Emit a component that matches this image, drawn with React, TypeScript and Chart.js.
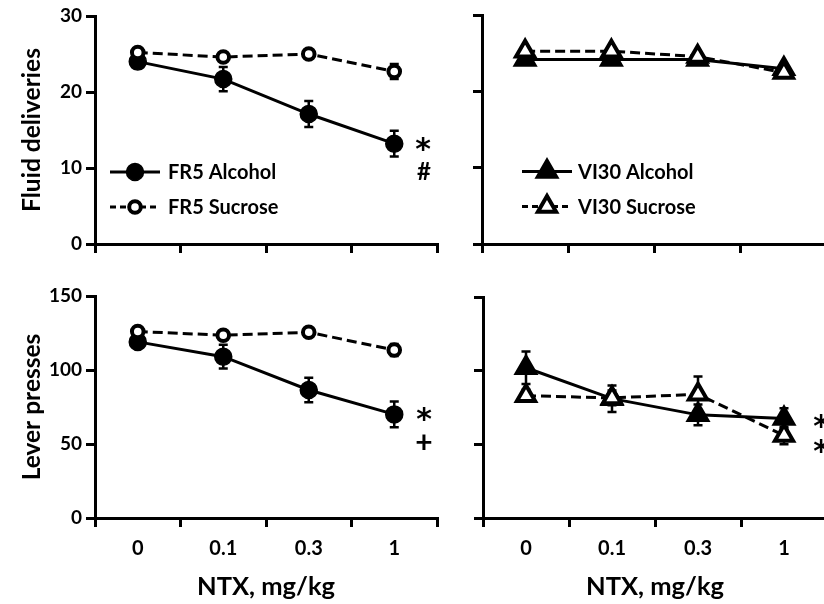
import React, { useEffect, useRef } from 'react';
import { Chart, registerables } from 'chart.js';
import { drawPoint } from 'chart.js/helpers';

Chart.register(...registerables);

// ---------- data ----------
const doses = ['0', '0.1', '0.3', '1'];
const yTitleTop = 'Fluid deliveries';
const yTitleBottom = 'Lever presses';
const xTitle = 'NTX, mg/kg';

const fr5AlcoholDeliveries = [24.0, 21.7, 17.1, 13.2];
const fr5AlcoholDeliveriesErr = [0.6, 1.6, 1.7, 1.7];
const fr5SucroseDeliveries = [25.2, 24.6, 25.0, 22.7];
const fr5SucroseDeliveriesErr = [0.4, 0.5, 0.4, 1.0];

const vi30AlcoholDeliveries = [24.2, 24.2, 24.2, 23.0];
const vi30AlcoholDeliveriesErr = [0.5, 0.5, 0.5, 0.5];
const vi30SucroseDeliveries = [25.3, 25.3, 24.6, 22.5];
const vi30SucroseDeliveriesErr = [0.3, 0.3, 0.4, 0.6];

const fr5AlcoholPresses = [119, 109, 86.5, 70];
const fr5AlcoholPressesErr = [3, 8, 8.3, 8.7];
const fr5SucrosePresses = [126, 123.5, 125.5, 113.5];
const fr5SucrosePressesErr = [2.5, 3, 2, 4];

const vi30AlcoholPresses = [102, 81, 70, 67.5];
const vi30AlcoholPressesErr = [11, 9, 7, 7];
const vi30SucrosePresses = [83, 81.5, 84, 56];
const vi30SucrosePressesErr = [4, 5, 12, 6];

const fr5Labels = ['FR5 Alcohol', 'FR5 Sucrose'];
const vi30Labels = ['VI30 Alcohol', 'VI30 Sucrose'];
const marksTL = ['*', '#'];
const marksBL = ['*', '+'];
const marksBR = ['*', '*'];

const FONT = 'Lato';

// ---------- plugins ----------
const errorBarPlugin = {
  id: 'errorBars',
  beforeDatasetsDraw(chart: any) {
    const ctx = chart.ctx;
    const yScale = chart.scales.y;
    chart.data.datasets.forEach((ds: any, i: number) => {
      const errs = ds.errors;
      if (!errs) return;
      const meta = chart.getDatasetMeta(i);
      ctx.save();
      ctx.strokeStyle = '#000';
      ctx.lineWidth = 2.5;
      ctx.setLineDash([]);
      meta.data.forEach((pt: any, j: number) => {
        const v = ds.data[j];
        const e = errs[j];
        const x = pt.x;
        const yt = yScale.getPixelForValue(v + e);
        const yb = yScale.getPixelForValue(v - e);
        ctx.beginPath();
        ctx.moveTo(x, yt);
        ctx.lineTo(x, yb);
        ctx.moveTo(x - 4.5, yt);
        ctx.lineTo(x + 4.5, yt);
        ctx.moveTo(x - 4.5, yb);
        ctx.lineTo(x + 4.5, yb);
        ctx.stroke();
      });
      ctx.restore();
    });
  },
};

const lineLegendPlugin = {
  id: 'lineLegend',
  afterDatasetsDraw(chart: any, _args: any, opts: any) {
    if (!opts || !opts.display) return;
    const ctx = chart.ctx;
    const area = chart.chartArea;
    chart.data.datasets.forEach((ds: any, i: number) => {
      const x0 = area.left + opts.dx;
      const y = area.top + opts.dy + i * opts.gap;
      ctx.save();
      ctx.strokeStyle = '#000';
      ctx.lineWidth = ds.borderWidth;
      ctx.setLineDash(ds.legendDash || []);
      ctx.beginPath();
      ctx.moveTo(x0, y);
      ctx.lineTo(x0 + opts.lineLen, y);
      ctx.stroke();
      ctx.setLineDash([]);
      ctx.fillStyle = ds.pointBackgroundColor;
      ctx.strokeStyle = '#000';
      ctx.lineWidth = ds.pointBorderWidth;
      drawPoint(
        ctx,
        { pointStyle: ds.pointStyle, radius: ds.pointRadius, rotation: 0, borderWidth: ds.pointBorderWidth },
        x0 + opts.lineLen / 2,
        y
      );
      ctx.fillStyle = '#000';
      ctx.font = `bold ${opts.fontSize}px ${FONT}`;
      ctx.textBaseline = 'middle';
      ctx.textAlign = 'left';
      ctx.fillText(ds.label, x0 + opts.lineLen + opts.textGap, y + 1);
      ctx.restore();
    });
  },
};

const marksPlugin = {
  id: 'sigMarks',
  afterDatasetsDraw(chart: any, _args: any, opts: any) {
    if (!opts || !opts.items) return;
    const ctx = chart.ctx;
    const area = chart.chartArea;
    const yScale = chart.scales.y;
    ctx.save();
    ctx.fillStyle = '#000';
    ctx.textAlign = 'center';
    ctx.textBaseline = 'middle';
    opts.items.forEach((it: any) => {
      ctx.font = `bold ${it.size}px ${it.font || FONT}`;
      ctx.fillText(it.text, area.right + it.dx, yScale.getPixelForValue(it.value) + (it.dy || 0));
    });
    ctx.restore();
  },
};

// ---------- helpers ----------
function series(label: string, data: number[], errors: number[], filled: boolean, shape: string) {
  const circle = shape === 'circle';
  return {
    label,
    data,
    errors,
    borderColor: '#000',
    borderWidth: 3,
    borderDash: filled ? [] : [10, 5],
    legendDash: filled ? [] : [6, 4],
    pointStyle: shape,
    pointRadius: circle ? (filled ? 8.5 : 5.8) : filled ? 12.5 : 10.5,
    pointBackgroundColor: filled ? '#000' : '#fff',
    pointBorderColor: '#000',
    pointBorderWidth: circle ? (filled ? 1.5 : 4) : filled ? 2 : 4,
    tension: 0,
    fill: false,
    clip: false,
    order: filled ? 1 : 0,
  };
}

function buildConfig(p: any) {
  return {
    type: 'line',
    data: { labels: doses, datasets: p.datasets },
    plugins: [errorBarPlugin, lineLegendPlugin, marksPlugin],
    options: {
      responsive: false,
      animation: false,
      devicePixelRatio: 1,
      events: [],
      layout: { autoPadding: false, padding: { top: p.padTop, right: p.padRight, left: 0, bottom: 0 } },
      plugins: {
        legend: { display: false },
        tooltip: { enabled: false },
        lineLegend: p.legend,
        sigMarks: { items: p.marks },
      },
      scales: {
        x: {
          type: 'category',
          offset: true,
          afterFit: (s: any) => {
            s.height = p.xHeight;
          },
          grid: { offset: true, drawOnChartArea: false, drawTicks: true, tickLength: 9, lineWidth: 3, color: '#000' },
          border: { display: true, width: 3, color: '#000' },
          ticks: {
            display: true,
            callback: (_v: any, i: number) => (p.xLabels ? doses[i] : ''),
            color: '#000',
            font: { family: FONT, size: 20, weight: 'bold' },
            padding: 10,
            maxRotation: 0,
            autoSkip: false,
          },
          title: {
            display: !!p.xTitle,
            text: p.xTitle || '',
            color: '#000',
            font: { family: FONT, size: 25.5, weight: 'bold' },
            padding: { top: 0, bottom: 2 },
          },
        },
        y: {
          min: 0,
          max: p.yMax,
          afterFit: (s: any) => {
            s.width = p.yWidth;
          },
          grid: { drawOnChartArea: false, drawTicks: true, tickLength: 9, lineWidth: 3, color: '#000' },
          border: { display: true, width: 3, color: '#000' },
          ticks: {
            stepSize: p.yStep,
            callback: (v: any) => (p.yLabels ? String(v) : ''),
            color: '#000',
            font: { family: FONT, size: 19, weight: 'bold' },
            padding: 4,
          },
          title: {
            display: !!p.yTitle,
            text: p.yTitle || '',
            color: '#000',
            font: { family: FONT, size: 24.5, weight: 'bold' },
            padding: { top: 17, bottom: 0 },
          },
        },
      },
    },
  } as any;
}

function Panel(props: { left: number; top: number; width: number; height: number; build: () => any }) {
  const ref = useRef<HTMLCanvasElement>(null);
  useEffect(() => {
    const chart = new Chart(ref.current as HTMLCanvasElement, props.build());
    return () => chart.destroy();
  }, []);
  return (
    <canvas
      ref={ref}
      width={props.width}
      height={props.height}
      style={{ position: 'absolute', left: props.left, top: props.top, width: props.width, height: props.height }}
    />
  );
}

const legendTL = { display: true, dx: 15, dy: 156, gap: 35, lineLen: 50, textGap: 8, fontSize: 20 };
const legendTR = { display: true, dx: 40, dy: 156, gap: 35, lineLen: 50, textGap: 6, fontSize: 20 };

export default function App() {
  return (
    <div style={{ position: 'fixed', left: 0, top: 0, width: 824, height: 604, overflow: 'hidden', background: '#fff' }}>
      <Panel
        left={0}
        top={0}
        width={440}
        height={262}
        build={() =>
          buildConfig({
            datasets: [
              series(fr5Labels[0], fr5AlcoholDeliveries, fr5AlcoholDeliveriesErr, true, 'circle'),
              series(fr5Labels[1], fr5SucroseDeliveries, fr5SucroseDeliveriesErr, false, 'circle'),
            ],
            yMax: 30,
            yStep: 10,
            yLabels: true,
            yTitle: yTitleTop,
            xLabels: false,
            yWidth: 95,
            xHeight: 18,
            padTop: 16,
            padRight: 3,
            legend: legendTL,
            marks: [
              { text: marksTL[0], dx: -14, value: 13.0, size: 30, dy: 6, font: 'DejaVu Sans' },
              { text: marksTL[1], dx: -13, value: 9.5, size: 24 },
            ],
          })
        }
      />
      <Panel
        left={440}
        top={0}
        width={390}
        height={262}
        build={() =>
          buildConfig({
            datasets: [
              series(vi30Labels[0], vi30AlcoholDeliveries, vi30AlcoholDeliveriesErr, true, 'triangle'),
              series(vi30Labels[1], vi30SucroseDeliveries, vi30SucroseDeliveriesErr, false, 'triangle'),
            ],
            yMax: 30,
            yStep: 10,
            yLabels: false,
            xLabels: false,
            yWidth: 42,
            xHeight: 18,
            padTop: 15,
            padRight: 3,
            legend: legendTR,
            marks: [],
          })
        }
      />
      <Panel
        left={0}
        top={270}
        width={440}
        height={334}
        build={() =>
          buildConfig({
            datasets: [
              series(fr5Labels[0], fr5AlcoholPresses, fr5AlcoholPressesErr, true, 'circle'),
              series(fr5Labels[1], fr5SucrosePresses, fr5SucrosePressesErr, false, 'circle'),
            ],
            yMax: 150,
            yStep: 50,
            yLabels: true,
            yTitle: yTitleBottom,
            xLabels: true,
            xTitle: xTitle,
            yWidth: 95,
            xHeight: 86,
            padTop: 26,
            padRight: 3,
            legend: { display: false },
            marks: [
              { text: marksBL[0], dx: -13, value: 69.6, size: 30, dy: 6, font: 'DejaVu Sans' },
              { text: marksBL[1], dx: -13, value: 50.7, size: 30 },
            ],
          })
        }
      />
      <Panel
        left={440}
        top={270}
        width={390}
        height={334}
        build={() =>
          buildConfig({
            datasets: [
              series(vi30Labels[0], vi30AlcoholPresses, vi30AlcoholPressesErr, true, 'triangle'),
              series(vi30Labels[1], vi30SucrosePresses, vi30SucrosePressesErr, false, 'triangle'),
            ],
            yMax: 150,
            yStep: 50,
            yLabels: false,
            xLabels: true,
            xTitle: xTitle,
            yWidth: 43,
            xHeight: 86,
            padTop: 27,
            padRight: 3,
            legend: { display: false },
            marks: [
              { text: marksBR[0], dx: -6, value: 64.7, size: 30, dy: 6, font: 'DejaVu Sans' },
              { text: marksBR[1], dx: -6, value: 47.8, size: 30, dy: 6, font: 'DejaVu Sans' },
            ],
          })
        }
      />
    </div>
  );
}
